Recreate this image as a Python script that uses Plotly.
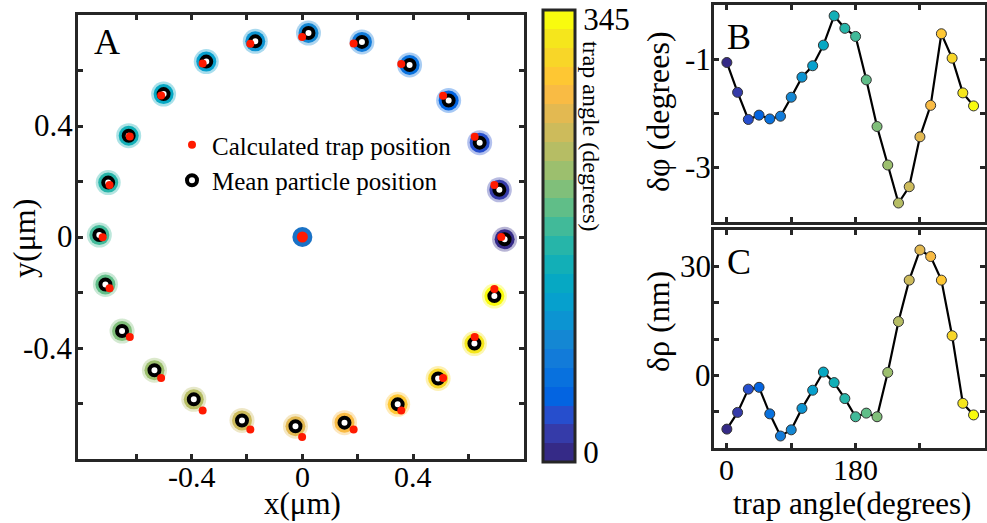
import numpy as np
import plotly.graph_objects as go

# ---------------- data ----------------
trap_angle = [0, 15, 30, 45, 60, 75, 90, 105, 120, 135, 150, 165,
              180, 195, 210, 225, 240, 255, 270, 285, 300, 315, 330, 345]

mean_x = [0.730, 0.711, 0.640, 0.528, 0.387, 0.215, 0.022, -0.170, -0.347, -0.501, -0.627, -0.701,
          -0.733, -0.711, -0.651, -0.534, -0.392, -0.218, -0.025, 0.152, 0.344, 0.490, 0.621, 0.693]
mean_y = [-0.008, 0.170, 0.340, 0.492, 0.620, 0.703, 0.735, 0.705, 0.632, 0.515, 0.365, 0.196,
          0.007, -0.171, -0.339, -0.480, -0.585, -0.661, -0.682, -0.669, -0.603, -0.510, -0.384, -0.213]

trap_x = [0.718, 0.693, 0.622, 0.508, 0.357, 0.185, -0.001, -0.188, -0.360, -0.510, -0.623, -0.696,
          -0.721, -0.696, -0.623, -0.510, -0.360, -0.188, -0.001, 0.185, 0.357, 0.508, 0.622, 0.693]
trap_y = [0.000, 0.187, 0.361, 0.509, 0.623, 0.697, 0.721, 0.696, 0.625, 0.510, 0.362, 0.187,
          -0.001, -0.185, -0.360, -0.508, -0.625, -0.694, -0.721, -0.694, -0.625, -0.508, -0.360, -0.187]

center_x = [0.0]
center_y = [0.0]

dphi = [-1.06, -1.61, -2.11, -2.03, -2.10, -2.05, -1.70, -1.33, -1.12, -0.74, -0.20, -0.43,
        -0.58, -1.38, -2.24, -2.95, -3.65, -3.35, -2.43, -1.85, -0.53, -0.98, -1.62, -1.86]
drho = [-14.8, -10.2, -3.8, -3.3, -10.6, -16.7, -15.0, -9.1, -4.1, 0.9, -2.0, -6.4,
        -11.4, -10.4, -11.4, 0.8, 14.8, 26.2, 34.5, 32.7, 26.2, 10.9, -7.7, -10.9]

# tick values / labels
a_ticks = [-0.6, -0.4, -0.2, 0, 0.2, 0.4, 0.6]
a_labels = {-0.4: "-0.4", 0: "0", 0.4: "0.4"}
ang_ticks = [0, 90, 180, 270]
ang_labels = {0: "0", 180: "180"}
b_ticks = [-3, -2, -1]
b_labels = {-3: "-3", -1: "-1"}
c_ticks = [-10, 0, 10, 20, 30]
c_labels = {0: "0", 30: "30"}

# ---------------- style ----------------
PARULA64 = [
    [0.2081, 0.1663, 0.5292], [0.2116, 0.1898, 0.5777], [0.2123, 0.2138, 0.6270], [0.2081, 0.2386, 0.6771],
    [0.1959, 0.2645, 0.7279], [0.1707, 0.2919, 0.7792], [0.1253, 0.3242, 0.8303], [0.0591, 0.3598, 0.8683],
    [0.0117, 0.3875, 0.8820], [0.0060, 0.4086, 0.8828], [0.0165, 0.4266, 0.8786], [0.0329, 0.4430, 0.8720],
    [0.0498, 0.4586, 0.8641], [0.0629, 0.4737, 0.8554], [0.0723, 0.4887, 0.8467], [0.0779, 0.5040, 0.8384],
    [0.0793, 0.5200, 0.8312], [0.0749, 0.5375, 0.8263], [0.0641, 0.5570, 0.8240], [0.0488, 0.5772, 0.8228],
    [0.0343, 0.5966, 0.8199], [0.0265, 0.6137, 0.8135], [0.0239, 0.6287, 0.8038], [0.0231, 0.6418, 0.7913],
    [0.0228, 0.6535, 0.7768], [0.0267, 0.6642, 0.7607], [0.0384, 0.6743, 0.7436], [0.0590, 0.6838, 0.7254],
    [0.0843, 0.6928, 0.7062], [0.1133, 0.7015, 0.6859], [0.1453, 0.7098, 0.6646], [0.1801, 0.7177, 0.6424],
    [0.2178, 0.7250, 0.6193], [0.2586, 0.7317, 0.5954], [0.3022, 0.7376, 0.5712], [0.3482, 0.7424, 0.5473],
    [0.3953, 0.7459, 0.5244], [0.4420, 0.7481, 0.5033], [0.4871, 0.7491, 0.4840], [0.5300, 0.7491, 0.4661],
    [0.5709, 0.7485, 0.4494], [0.6099, 0.7473, 0.4337], [0.6473, 0.7456, 0.4188], [0.6834, 0.7435, 0.4044],
    [0.7184, 0.7411, 0.3905], [0.7525, 0.7384, 0.3768], [0.7858, 0.7356, 0.3633], [0.8185, 0.7327, 0.3498],
    [0.8507, 0.7299, 0.3360], [0.8824, 0.7274, 0.3217], [0.9139, 0.7258, 0.3063], [0.9450, 0.7261, 0.2886],
    [0.9739, 0.7314, 0.2666], [0.9938, 0.7455, 0.2403], [0.9990, 0.7653, 0.2164], [0.9955, 0.7861, 0.1967],
    [0.9880, 0.8066, 0.1794], [0.9789, 0.8271, 0.1633], [0.9697, 0.8481, 0.1475], [0.9626, 0.8705, 0.1309],
    [0.9589, 0.8949, 0.1132], [0.9598, 0.9218, 0.0948], [0.9661, 0.9514, 0.0755], [0.9763, 0.9831, 0.0538]]
P = np.array(PARULA64)
NB = 24
src = np.linspace(0, 1, 64)
dst = np.linspace(0, 1, NB)
band = np.stack([np.interp(dst, src, P[:, i]) for i in range(3)], axis=1)
band_hex = ['rgb(%d,%d,%d)' % tuple(int(round(v * 255)) for v in c) for c in band]
cscale = []
for k, c in enumerate(band_hex):
    cscale.append([k / NB, c])
    cscale.append([(k + 1) / NB, c])
CMIN, CMAX = -7.5, 352.5

FONT = "Liberation Serif"
AX = "#262626"
W, H = 987, 523
TICKSIZE = 31

def px_x(p):
    return p / W

def px_y(p):
    return 1 - p / H

fig = go.Figure()

# ---------------- panel A ----------------
fig.add_trace(go.Scatter(
    x=mean_x, y=mean_y, mode="markers", showlegend=False, hoverinfo="skip",
    marker=dict(size=25, color=trap_angle, colorscale=cscale, cmin=CMIN, cmax=CMAX, opacity=0.35,
                line=dict(width=0)),
    xaxis="x", yaxis="y"))
fig.add_trace(go.Scatter(
    x=mean_x, y=mean_y, mode="markers", showlegend=False, hoverinfo="skip",
    marker=dict(size=20, color=trap_angle, colorscale=cscale, cmin=CMIN, cmax=CMAX,
                line=dict(width=0), showscale=True,
                colorbar=dict(x=px_x(543), xanchor="left", xref="paper",
                              y=px_y(236), yanchor="middle", yref="paper",
                              len=452 / H, lenmode="fraction", thickness=32,
                              outlinewidth=3, outlinecolor=AX, xpad=0, ypad=0,
                              tickvals=[0, 345], ticktext=["0", "345"], ticks="",
                              tickfont=dict(family=FONT, size=TICKSIZE, color="black"))),
    xaxis="x", yaxis="y"))
fig.add_trace(go.Scatter(
    x=center_x, y=center_y, mode="markers", showlegend=False, hoverinfo="skip",
    marker=dict(size=20, color="#1a72c6", line=dict(width=0)), xaxis="x", yaxis="y"))
fig.add_trace(go.Scatter(
    x=mean_x, y=mean_y, mode="markers", name="Mean particle position", legendrank=2,
    marker=dict(size=10, color="white", line=dict(width=4, color="black")),
    xaxis="x", yaxis="y"))
fig.add_trace(go.Scatter(
    x=trap_x, y=trap_y, mode="markers", name="Calculated trap position", legendrank=1,
    marker=dict(size=8, color="#ff1a00", line=dict(width=0)),
    xaxis="x", yaxis="y"))
fig.add_trace(go.Scatter(
    x=center_x, y=center_y, mode="markers", showlegend=False, hoverinfo="skip",
    marker=dict(size=11, color="#ff1a00", line=dict(width=0)), xaxis="x", yaxis="y"))

# ---------------- panels B and C ----------------
for yax, vals in (("y2", dphi), ("y3", drho)):
    xax = "x2" if yax == "y2" else "x3"
    fig.add_trace(go.Scatter(
        x=trap_angle, y=vals, mode="lines+markers", showlegend=False,
        line=dict(color="black", width=2.2),
        marker=dict(size=10, color=trap_angle, colorscale=cscale, cmin=CMIN, cmax=CMAX,
                    line=dict(width=1, color="#333333")),
        xaxis=xax, yaxis=yax))

common = dict(showline=True, linewidth=3, linecolor=AX, mirror="ticks", ticks="inside",
              ticklen=5, tickwidth=2.5, tickcolor=AX, showgrid=False, zeroline=False,
              showticklabels=False)

xa = dict(domain=[px_x(78), px_x(524)], range=[-0.81, 0.80], tickvals=a_ticks, anchor="y", **common)
ya = dict(domain=[px_y(459), px_y(15)], range=[-0.80, 0.80], tickvals=a_ticks, anchor="x", **common)
xb = dict(domain=[px_x(714), px_x(985)], range=[-18, 361], tickvals=ang_ticks, anchor="y2", **common)
yb = dict(domain=[px_y(222), px_y(5)], range=[-4, 0], tickvals=b_ticks, anchor="x2", **common)
xc = dict(domain=[px_x(714), px_x(985)], range=[-18, 361], tickvals=ang_ticks, anchor="y3", **common)
yc = dict(domain=[px_y(448), px_y(230)], range=[-20, 40], tickvals=c_ticks, anchor="x3", **common)

def ann(text, x, y, size=32, angle=0):
    return dict(text=text, x=px_x(x), y=px_y(y), xref="paper", yref="paper", showarrow=False,
                textangle=angle, xanchor="center", yanchor="middle", borderpad=0,
                font=dict(family=FONT, size=size, color="black"))

def xtick_ann(text, val, xref, ypix, size=TICKSIZE):
    return dict(text=text, x=val, xref=xref, y=px_y(ypix), yref="paper", showarrow=False,
                xanchor="center", yanchor="middle", borderpad=0,
                font=dict(family=FONT, size=size, color="black"))

def ytick_ann(text, val, yref, xpix):
    return dict(text=text, y=val, yref=yref, x=px_x(xpix), xref="paper", showarrow=False,
                xanchor="right", yanchor="middle", borderpad=0,
                font=dict(family=FONT, size=TICKSIZE, color="black"))

annotations = [
    ann("A", 107, 42, size=36),
    ann("B", 739, 37, size=36),
    ann("C", 739, 262, size=36),
    ann("x(μm)", 302, 503, size=31),
    ann("y(μm)", 24, 239, angle=-90),
    ann("trap angle (degrees)", 591, 136, size=24, angle=90),
    ann("δφ (degrees)", 658, 112, size=32, angle=-90),
    ann("δρ (nm)", 658, 322, size=32, angle=-90),
    ann("trap angle(degrees)", 852, 503, size=31),
]
for v, t in a_labels.items():
    annotations.append(xtick_ann(t, v, "x", 476, size=30))
    annotations.append(ytick_ann(t, v, "y", 74))
for v, t in ang_labels.items():
    annotations.append(xtick_ann(t, v, "x3", 469, size=30))
for v, t in b_labels.items():
    annotations.append(ytick_ann(t, v, "y2", 712))
for v, t in c_labels.items():
    annotations.append(ytick_ann(t, v, "y3", 712))

fig.update_layout(
    width=W, height=H, margin=dict(l=0, r=0, t=0, b=0),
    paper_bgcolor="white", plot_bgcolor="white",
    xaxis=xa, yaxis=ya, xaxis2=xb, yaxis2=yb, xaxis3=xc, yaxis3=yc,
    annotations=annotations,
    showlegend=True,
    legend=dict(x=px_x(172), y=px_y(122), xanchor="left", yanchor="top",
                bgcolor="rgba(0,0,0,0)", borderwidth=0,
                font=dict(family=FONT, size=25, color="black"), tracegroupgap=0),
    font=dict(family=FONT, color="black"),
)

fig.write_html("out.html")
